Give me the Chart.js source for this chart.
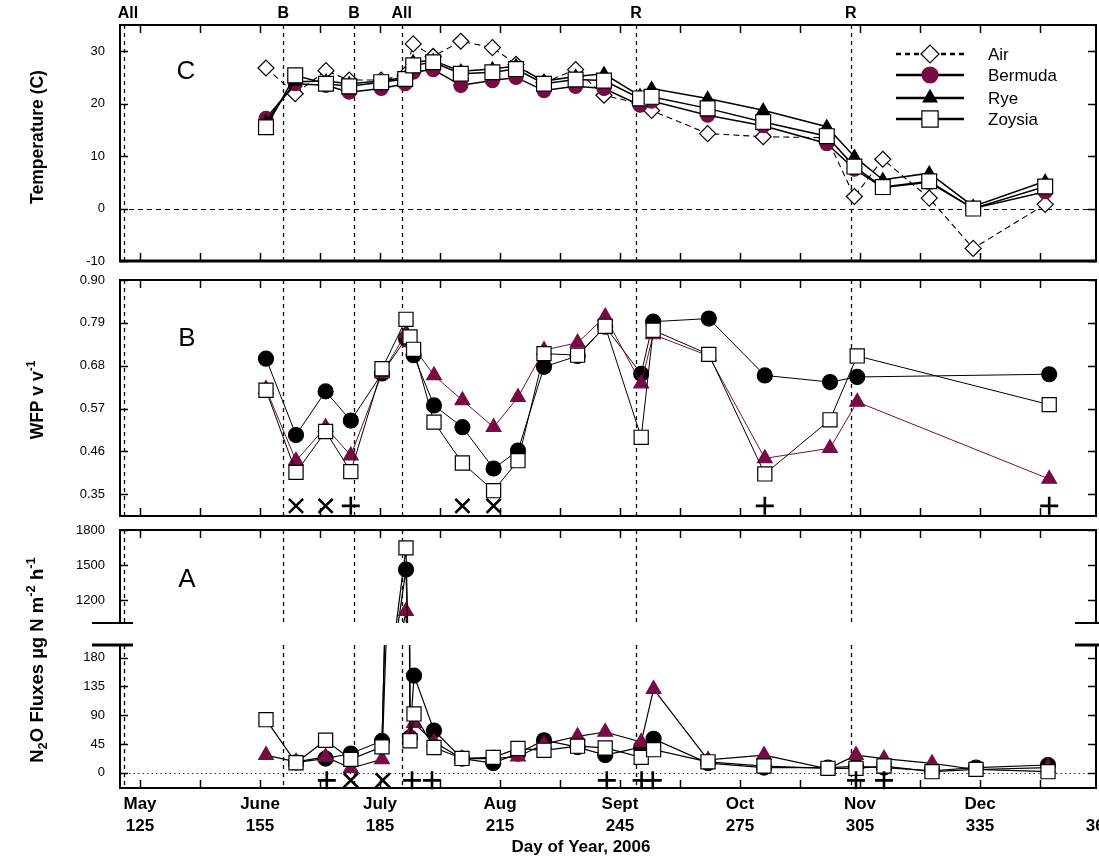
<!DOCTYPE html>
<html>
<head>
<meta charset="utf-8">
<script src="https://cdn.jsdelivr.net/npm/chart.js@4.4.1/dist/chart.umd.min.js"></script>
<style>
  body { margin: 0; background: #fff; }
  #page { position: relative; width: 1099px; height: 859px; overflow: hidden; background: #fff; }
  canvas { position: absolute; left: 0; }
</style>
</head>
<body>
<div id="page">
  <canvas id="cT" width="1099" height="270" style="top:0px"></canvas>
  <canvas id="cW" width="1099" height="252" style="top:268px"></canvas>
  <canvas id="cNb" width="1099" height="339" style="top:520px"></canvas>
  <canvas id="cNt" width="1099" height="106" style="top:520px"></canvas>
</div>
<script>
// ---- shared x axis (day of year) ----
var dayMin = 120, dayMax = 364;
var tickDays = [125, 140, 155, 170, 185, 200, 215, 230, 245, 260, 275, 290, 305, 320, 335, 350, 365];
var labelDays = [125, 155, 185, 215, 245, 275, 305, 335, 365];
var monthNames = ['May', 'June', 'July', 'Aug', 'Sept', 'Oct', 'Nov', 'Dec', ''];
var eventDays = [121, 160.8, 178.5, 190.4, 249, 302.7];
var eventLabels = ['All', 'B', 'B', 'All', 'R', 'R'];

// ---- C: temperature ----
var tempDays = [156.5, 163.8, 171.5, 177.3, 185.3, 191.3, 193.3, 198.3, 205.2, 213.1, 219, 226, 233.9, 241, 250, 252.9, 266.9, 280.8, 296.7, 303.6, 310.7, 322.3, 333.3, 351.3];
var airTemp     = [26.8, 21.9, 26.3, 24.5, 24.5, 25.5, 31.4, 29, 31.9, 30.7, 27.5, 24, 26.5, 21.6, 20, 18.7, 14.3, 13.7, 13.5, 2.3, 9.4, 2, -7.6, 0.8];
var bermudaTemp = [17.2, 23.8, 23.5, 22.2, 22.9, 23.8, 26, 26.5, 23.5, 24.4, 25, 22.5, 23.3, 22.9, 19.7, 20.5, 17.8, 15.8, 12.4, 7.5, 4, 5, 0, 3.2];
var ryeTemp     = [16.5, 24.2, 24.3, 23.8, 24.3, 25, 28, 28.2, 26.2, 26.6, 27.2, 24.3, 25.2, 25.7, 21.5, 22.9, 21, 18.75, 15.6, 9.9, 5.5, 6.75, 0.4, 5.2];
var zoysiaTemp  = [15.5, 25.4, 23.8, 23.3, 24.1, 24.7, 27.3, 27.9, 25.7, 26, 26.6, 23.8, 24.6, 24.4, 21, 21.3, 19.1, 16.5, 13.8, 8, 4.1, 5.2, 0, 4.2];
var tempTicks = [-10, 0, 10, 20, 30];

// ---- B: water filled pore space ----
var wfpDays = [156.5, 164, 171.4, 177.7, 185.5, 191.5, 192.5, 193.4, 198.5, 205.6, 213.4, 219.5, 226, 234.4, 241.3, 250.3, 253.3, 267.2, 281.2, 297.5, 304.3, 352.3];
var bermudaWfp = [0.698, 0.502, 0.614, 0.539, 0.66, 0.75, null, 0.707, 0.578, 0.522, 0.416, 0.462, 0.677, 0.705, 0.78, 0.659, 0.793, 0.801, 0.655, 0.638, 0.651, 0.658];
var ryeWfp     = [0.62, 0.436, 0.522, 0.449, 0.66, 0.763, 0.74, null, 0.655, 0.591, 0.522, 0.599, 0.72, 0.739, 0.806, 0.634, 0.76, 0.705, 0.442, 0.468, 0.587, 0.389];
var zoysiaWfp  = [0.617, 0.406, 0.511, 0.408, 0.672, 0.799, 0.754, 0.722, 0.535, 0.43, 0.359, 0.436, 0.711, 0.707, 0.781, 0.496, 0.771, 0.709, 0.402, 0.541, 0.705, 0.58];
var wfpTicks = [0.35, 0.46, 0.57, 0.68, 0.79, 0.90];
var wfpCrossDays = [164, 171.4, 205.6, 213.4];
var wfpPlusDays = [177.7, 281.2, 352.3];

// ---- A: N2O fluxes ----
var n2oDays = [156.5, 164, 171.4, 177.7, 185.5, 191.5, 192.5, 193.5, 198.5, 205.5, 213.3, 219.5, 226, 234.4, 241.3, 250.3, 253.4, 267, 281, 297, 304, 311, 323, 334, 352];
var bermudaN2o = [null, 16, 22, 30, 49.7, 1461, 55, 152, 66, 22, 15, 30, 50.8, 40, 27.5, 40, 53, 15, 8, 8, 10, 8, 3, 8, 12];
var ryeN2o     = [27.5, 17, 24.8, 7, 20.8, 1104, 60, 77.6, 48, 22, 22, 25, 45, 57, 63.7, 48, 131, 20, 27.5, 6, 27.5, 22, 14.6, 5, 8];
var zoysiaN2o  = [83, 15.5, 50.8, 20.8, 40.4, 1647, 50, 92, 39.4, 22.3, 24, 38, 35, 41.5, 38.8, 24, 36, 17, 10.4, 6.8, 6.8, 10.4, 1.6, 5.2, 1.6];
var n2oLowTicks = [0, 45, 90, 135, 180];
var n2oHighTicks = [1200, 1500, 1800];
var n2oPlusDays = [171.7, 193, 198, 241.7, 250.4, 253.2, 304, 311];
var n2oCrossDays = [177.7, 185.7];

var FAMILY = '"Liberation Sans", Arial, sans-serif';
var MAROON = '#760c42';
Chart.defaults.font.family = FAMILY;
Chart.defaults.color = '#000';
Chart.defaults.animation = false;

function pts(days, vals) {
    return days.map(function (d, i) { return {x: d, y: vals[i]}; });
}
function flat(days, level) {
    return days.map(function (d) { return {x: d, y: level}; });
}

function series(label, data, st) {
    var ds = {
        label: label, data: data, spanGaps: true, tension: 0,
        borderColor: '#000', borderWidth: 1.2,
        pointBorderColor: '#000', pointBorderWidth: 1.2, pointHoverRadius: 0
    };
    for (var k in st) ds[k] = st[k];
    return ds;
}

function marks(days, level, style) {
    return {
        data: flat(days, level), showLine: false, pointStyle: style, pointRadius: style === 'cross' ? 9 : 10,
        pointBorderColor: '#000', pointBorderWidth: 2.6, pointBackgroundColor: 'rgba(0,0,0,0)',
        clip: false, order: -1
    };
}

function xAxis(withLabels) {
    return {
        type: 'linear', min: dayMin, max: dayMax, display: withLabels,
        grid: {display: false, drawTicks: false}, border: {display: false},
        afterBuildTicks: function (s) { s.ticks = labelDays.map(function (v) { return {value: v}; }); },
        afterFit: function (s) { s.paddingLeft = 0; s.paddingRight = 0; if (withLabels) s.height = 71; },
        ticks: {
            autoSkip: false, maxRotation: 0, minRotation: 0, padding: 5,
            font: {size: 17, weight: 'bold', lineHeight: 1.3},
            callback: function (v) {
                var i = labelDays.indexOf(v);
                return i < 0 ? '' : [monthNames[i], String(v)];
            }
        }
    };
}

function yAxis(min, max, ticks, size, fmt) {
    return {
        type: 'linear', min: min, max: max,
        grid: {display: false, drawTicks: false}, border: {display: false},
        afterBuildTicks: function (s) { s.ticks = ticks.map(function (v) { return {value: v}; }); },
        afterFit: function (s) { s.width = 120; s.paddingTop = 0; s.paddingBottom = 0; },
        ticks: {padding: 15, font: {size: size}, callback: fmt || function (v) { return String(v); }}
    };
}

function line(ctx, x1, y1, x2, y2) {
    ctx.beginPath(); ctx.moveTo(x1, y1); ctx.lineTo(x2, y2); ctx.stroke();
}

function marker(ctx, style, cx, cy, r, fill, stroke) {
    ctx.beginPath();
    if (style === 'circle') {
        ctx.arc(cx, cy, r, 0, 2 * Math.PI);
    } else if (style === 'rect') {
        var h = r * Math.SQRT1_2;
        ctx.rect(cx - h, cy - h, 2 * h, 2 * h);
    } else if (style === 'rectRot') {
        ctx.moveTo(cx - r, cy); ctx.lineTo(cx, cy - r); ctx.lineTo(cx + r, cy); ctx.lineTo(cx, cy + r); ctx.closePath();
    } else if (style === 'triangle') {
        for (var k = 0; k < 3; k++) {
            var an = k * 2 * Math.PI / 3;
            if (k === 0) ctx.moveTo(cx + Math.sin(an) * r, cy - Math.cos(an) * r);
            else ctx.lineTo(cx + Math.sin(an) * r, cy - Math.cos(an) * r);
        }
        ctx.closePath();
    }
    ctx.fillStyle = fill; ctx.fill();
    ctx.setLineDash([]); ctx.lineWidth = 1.2; ctx.strokeStyle = stroke; ctx.stroke();
}

function richVertical(ctx, parts, cx, cy, size) {
    ctx.save();
    ctx.translate(cx, cy); ctx.rotate(-Math.PI / 2);
    var fonts = parts.map(function (p) { return 'bold ' + (p.sub || p.sup ? Math.round(size * 0.68) : size) + 'px ' + FAMILY; });
    var total = 0;
    parts.forEach(function (p, i) { ctx.font = fonts[i]; total += ctx.measureText(p.t).width; });
    var x = -total / 2;
    ctx.textBaseline = 'middle'; ctx.textAlign = 'left'; ctx.fillStyle = '#000';
    parts.forEach(function (p, i) {
        ctx.font = fonts[i];
        var dy = p.sub ? size * 0.3 : (p.sup ? -size * 0.35 : 0);
        ctx.fillText(p.t, x, dy);
        x += ctx.measureText(p.t).width;
    });
    ctx.restore();
}

// frame, inward ticks, event lines, labels
var frame = {
    id: 'frame',
    beforeDatasetsDraw: function (chart, args, o) {
        var ctx = chart.ctx, a = chart.chartArea, x = chart.scales.x, y = chart.scales.y;
        ctx.save();
        ctx.beginPath(); ctx.rect(a.left, a.top, a.right - a.left, a.bottom - a.top); ctx.clip();
        ctx.strokeStyle = '#000'; ctx.lineWidth = 1.3; ctx.setLineDash([4, 4]);
        eventDays.forEach(function (d) {
            var px = Math.round(x.getPixelForValue(d)) + 0.5;
            line(ctx, px, a.top, px, a.bottom);
        });
        if (o.zero) {
            ctx.setLineDash(o.zero.dash); ctx.strokeStyle = o.zero.color; ctx.lineWidth = 1;
            var py = Math.round(y.getPixelForValue(0)) + 0.5;
            line(ctx, a.left, py, a.right, py);
        }
        ctx.restore();
    },
    afterDatasetsDraw: function (chart, args, o) {
        var ctx = chart.ctx, a = chart.chartArea, x = chart.scales.x, y = chart.scales.y;
        var sides = o.sides || 'tblr';
        ctx.save();
        ctx.setLineDash([]); ctx.strokeStyle = '#000'; ctx.lineWidth = 2;
        if (sides.indexOf('t') >= 0) line(ctx, a.left - 1, a.top, a.right + 1, a.top);
        if (sides.indexOf('b') >= 0) {
            ctx.lineWidth = o.bottomWidth || 2;
            line(ctx, a.left - 1, a.bottom, a.right + 1, a.bottom);
            ctx.lineWidth = 2;
        }
        line(ctx, a.left, a.top, a.left, a.bottom);
        line(ctx, a.right, a.top, a.right, a.bottom);
        ctx.lineWidth = 1.5;
        tickDays.forEach(function (d) {
            if (d <= dayMin || d >= dayMax) return;
            var px = Math.round(x.getPixelForValue(d)) + 0.5;
            if (sides.indexOf('t') >= 0) line(ctx, px, a.top, px, a.top + 8);
            if (sides.indexOf('b') >= 0) line(ctx, px, a.bottom, px, a.bottom - 8);
        });
        (o.yTicks || []).forEach(function (v) {
            var py = Math.round(y.getPixelForValue(v)) + 0.5;
            line(ctx, a.left, py, a.left + 8, py);
            line(ctx, a.right, py, a.right - 8, py);
        });
        if (o.brk) {
            ctx.lineWidth = o.brk.w;
            var by = o.brk.at === 'top' ? a.top : a.bottom;
            line(ctx, 92, by, 133, by);
            line(ctx, 1075, by, 1099, by);
        }
        ctx.restore();
    },
    afterDraw: function (chart, args, o) {
        var ctx = chart.ctx, x = chart.scales.x;
        ctx.save();
        ctx.fillStyle = '#000';
        if (o.letter) {
            ctx.font = '26px ' + FAMILY; ctx.textAlign = 'center'; ctx.textBaseline = 'middle';
            ctx.fillText(o.letter.t, o.letter.x, o.letter.y);
        }
        if (o.yTitle) richVertical(ctx, o.yTitle.parts, 38, o.yTitle.y, o.yTitle.size || 17.5);
        if (o.xTitle) {
            ctx.font = 'bold 17px ' + FAMILY; ctx.textAlign = 'center'; ctx.textBaseline = 'middle';
            ctx.fillText(o.xTitle.t, o.xTitle.x, o.xTitle.y);
        }
        if (o.events) {
            ctx.font = 'bold 16px ' + FAMILY; ctx.textAlign = 'center'; ctx.textBaseline = 'middle';
            eventDays.forEach(function (d, i) {
                var px = x.getPixelForValue(d);
                if (i === 0) px += 4;
                ctx.fillText(eventLabels[i], px, 14);
            });
        }
        if (o.legend) {
            var rows = [54, 75, 98, 119];
            ctx.font = '17px ' + FAMILY; ctx.textAlign = 'left'; ctx.textBaseline = 'middle';
            chart.data.datasets.slice(0, 4).forEach(function (ds, i) {
                var ry = rows[i];
                ctx.strokeStyle = '#000'; ctx.lineWidth = 2.5;
                ctx.setLineDash(ds.borderDash ? [5, 4] : []);
                line(ctx, 896, ry, 964, ry);
                marker(ctx, ds.pointStyle, 930, ry, ds.pointRadius + 1, ds.pointBackgroundColor, ds.pointBorderColor);
                ctx.fillStyle = '#000';
                ctx.fillText(ds.label, 988, ry + 1);
            });
        }
        ctx.restore();
    }
};

function baseOptions(pad) {
    return {
        responsive: false,
        layout: {autoPadding: false, padding: pad}
    };
}

// ---- C chart ----
var optT = baseOptions({top: 25, bottom: 9, right: 3, left: 0});
optT.scales = {x: xAxis(false), y: yAxis(-10, 35, tempTicks, 13)};
optT.plugins = {
    legend: {display: false}, tooltip: {enabled: false},
    frame: {
        yTicks: tempTicks, zero: {dash: [5, 4], color: '#000'}, bottomWidth: 3,
        letter: {t: 'C', x: 186, y: 72}, events: true, legend: true,
        yTitle: {parts: [{t: 'Temperature (C)'}], y: 137}
    }
};
new Chart(document.getElementById('cT'), {
    type: 'line',
    data: {
        datasets: [
            series('Air', pts(tempDays, airTemp), {borderDash: [6, 4], borderWidth: 1.1, pointStyle: 'rectRot', pointRadius: 8, pointBackgroundColor: '#fff', order: 3}),
            series('Bermuda', pts(tempDays, bermudaTemp), {borderWidth: 1.5, pointStyle: 'circle', pointRadius: 7, pointBackgroundColor: MAROON, pointBorderColor: MAROON, order: 2}),
            series('Rye', pts(tempDays, ryeTemp), {borderWidth: 1.5, pointStyle: 'triangle', pointRadius: 7, pointBackgroundColor: '#000', order: 1}),
            series('Zoysia', pts(tempDays, zoysiaTemp), {borderWidth: 1.5, pointStyle: 'rect', pointRadius: 10.5, pointBackgroundColor: '#fff', order: 0})
        ]
    },
    options: optT,
    plugins: [frame]
});

// ---- B chart ----
var optW = baseOptions({top: 12, bottom: 4, right: 3, left: 0});
optW.scales = {x: xAxis(false), y: yAxis(0.294, 0.90, wfpTicks, 13, function (v) { return v.toFixed(2); })};
optW.plugins = {
    legend: {display: false}, tooltip: {enabled: false},
    frame: {
        yTicks: wfpTicks, letter: {t: 'B', x: 187, y: 71},
        yTitle: {parts: [{t: 'WFP v v'}, {t: '-1', sup: true}], y: 132}
    }
};
new Chart(document.getElementById('cW'), {
    type: 'line',
    data: {
        datasets: [
            series('Bermuda', pts(wfpDays, bermudaWfp), {borderWidth: 1, pointStyle: 'circle', pointRadius: 7.5, pointBackgroundColor: '#000', order: 2}),
            series('Rye', pts(wfpDays, ryeWfp), {borderWidth: 1, borderColor: MAROON, pointStyle: 'triangle', pointRadius: 8.5, pointBackgroundColor: MAROON, pointBorderColor: MAROON, order: 1}),
            series('Zoysia', pts(wfpDays, zoysiaWfp), {borderWidth: 1, pointStyle: 'rect', pointRadius: 10, pointBackgroundColor: '#fff', order: 0}),
            marks(wfpCrossDays, 0.32, 'crossRot'),
            marks(wfpPlusDays, 0.32, 'cross')
        ]
    },
    options: optW,
    plugins: [frame]
});

// ---- A chart, lower part ----
function n2oSets() {
    return [
        series('Bermuda', pts(n2oDays, bermudaN2o), {borderWidth: 1.2, pointStyle: 'circle', pointRadius: 7.5, pointBackgroundColor: '#000', order: 2, clip: 0}),
        series('Rye', pts(n2oDays, ryeN2o), {borderWidth: 1.2, pointStyle: 'triangle', pointRadius: 8.5, pointBackgroundColor: MAROON, pointBorderColor: MAROON, order: 1, clip: 0}),
        series('Zoysia', pts(n2oDays, zoysiaN2o), {borderWidth: 1.2, pointStyle: 'rect', pointRadius: 10, pointBackgroundColor: '#fff', order: 0, clip: 0})
    ];
}

var optNb = baseOptions({top: 125, bottom: 0, right: 3, left: 0});
optNb.scales = {x: xAxis(true), y: yAxis(-24, 200, n2oLowTicks, 13)};
optNb.plugins = {
    legend: {display: false}, tooltip: {enabled: false},
    frame: {
        sides: 'b', yTicks: n2oLowTicks, zero: {dash: [1.5, 3], color: '#333'},
        brk: {at: 'top', w: 3},
        yTitle: {parts: [{t: 'N'}, {t: '2', sub: true}, {t: 'O Fluxes \u00b5g N m'}, {t: '-2', sup: true}, {t: ' h'}, {t: '-1', sup: true}], y: 140, size: 18.5},
        xTitle: {t: 'Day of Year, 2006', x: 581, y: 327}
    }
};
new Chart(document.getElementById('cNb'), {
    type: 'line',
    data: {
        datasets: n2oSets().concat([
            marks(n2oPlusDays, -12, 'cross'),
            marks(n2oCrossDays, -12, 'crossRot')
        ])
    },
    options: optNb,
    plugins: [frame]
});

// ---- A chart, upper part (above the axis break) ----
var optNt = baseOptions({top: 10, bottom: 3, right: 3, left: 0});
optNt.scales = {x: xAxis(false), y: yAxis(1003, 1800, n2oHighTicks, 13)};
optNt.plugins = {
    legend: {display: false}, tooltip: {enabled: false},
    frame: {
        sides: 't', yTicks: n2oHighTicks, brk: {at: 'bottom', w: 2},
        letter: {t: 'A', x: 187, y: 60}
    }
};
new Chart(document.getElementById('cNt'), {
    type: 'line',
    data: {datasets: n2oSets()},
    options: optNt,
    plugins: [frame]
});
</script>
</body>
</html>
